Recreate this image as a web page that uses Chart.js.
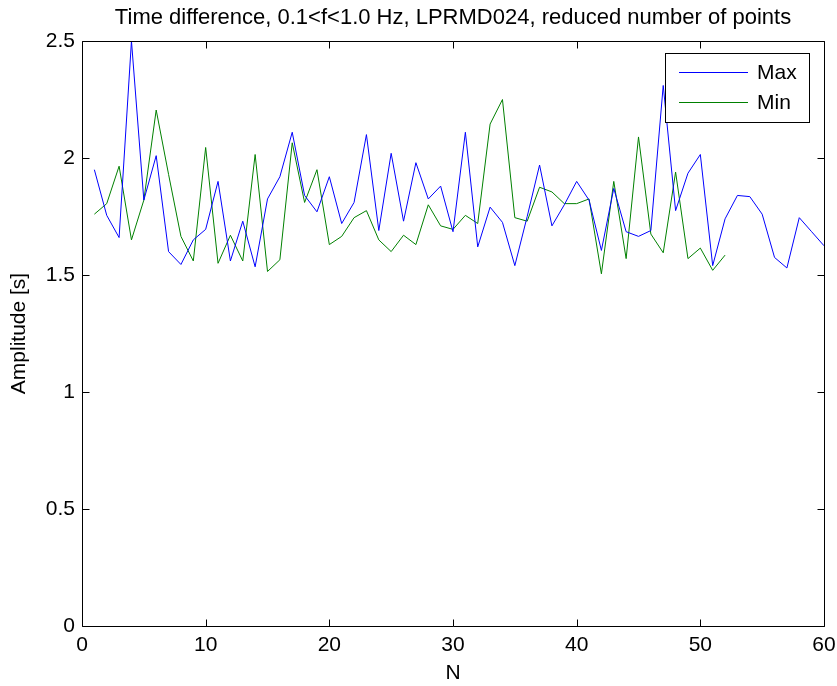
<!DOCTYPE html>
<html lang="en">

<head>
    <meta charset="UTF-8">
    <title>Time difference</title>
    <script src="https://cdn.jsdelivr.net/npm/chart.js"></script>
    <style>
        body { margin: 0; background: #fff; }
        #box { width: 837px; height: 686px; }
    </style>
</head>

<body>
    <div id="box">
        <canvas id="myChart"></canvas>
    </div>
    <script>
        // 數據
        var chartTitle = 'Time difference, 0.1<f<1.0 Hz, LPRMD024, reduced number of points';
        var seriesNames = ['Max', 'Min'];
        var maxVals = [1.95, 1.755, 1.66, 2.50, 1.82, 2.01, 1.60, 1.545, 1.65, 1.695,
            1.90, 1.56, 1.73, 1.535, 1.825, 1.92, 2.11, 1.84, 1.77, 1.92,
            1.72, 1.81, 2.10, 1.69, 2.02, 1.73, 1.98, 1.825, 1.88, 1.685,
            2.11, 1.62, 1.79, 1.725, 1.54, 1.75, 1.97, 1.71, 1.80, 1.90,
            1.82, 1.605, 1.87, 1.685, 1.665, 1.69, 2.31, 1.775, 1.935, 2.015,
            1.54, 1.74, 1.84, 1.835, 1.76, 1.575, 1.53, 1.745, 1.685, 1.625];
        var minVals = [1.76, 1.805, 1.965, 1.65, 1.82, 2.205, 1.93, 1.665, 1.56, 2.045,
            1.55, 1.67, 1.56, 2.015, 1.515, 1.565, 2.065, 1.81, 1.95, 1.63,
            1.665, 1.745, 1.775, 1.65, 1.60, 1.67, 1.63, 1.80, 1.71, 1.695,
            1.755, 1.72, 2.145, 2.25, 1.745, 1.73, 1.875, 1.855, 1.805, 1.805,
            1.825, 1.505, 1.90, 1.57, 2.09, 1.675, 1.595, 1.94, 1.57, 1.615,
            1.52, 1.585];
        var xTicks = [0, 10, 20, 30, 40, 50, 60];
        var yTicks = [0, 0.5, 1, 1.5, 2, 2.5];

        var fontFam = '"Liberation Sans", Arial, Helvetica, sans-serif';

        function toPoints(arr) {
            return arr.map(function (v, i) { return { x: i + 1, y: v }; });
        }

        // MATLAB 風格的外框、內刻度、圖例
        var matlabFrame = {
            id: 'matlabFrame',
            afterDatasetsDraw: function (chart) {
                var ctx = chart.ctx;
                var a = chart.chartArea;
                var xs = chart.scales.x, ys = chart.scales.y;
                var L = Math.round(a.left) + 0.5, R = Math.round(a.right) + 0.5;
                var T = Math.round(a.top) + 0.5, B = Math.round(a.bottom) + 0.5;
                ctx.save();
                ctx.strokeStyle = '#000';
                ctx.lineWidth = 1;
                ctx.beginPath();
                ctx.rect(L, T, R - L, B - T);
                xs.ticks.forEach(function (t) {
                    var px = Math.round(xs.getPixelForValue(t.value)) + 0.5;
                    ctx.moveTo(px, B); ctx.lineTo(px, B - 7);
                    ctx.moveTo(px, T); ctx.lineTo(px, T + 7);
                });
                ys.ticks.forEach(function (t) {
                    var py = Math.round(ys.getPixelForValue(t.value)) + 0.5;
                    ctx.moveTo(L, py); ctx.lineTo(L + 7, py);
                    ctx.moveTo(R, py); ctx.lineTo(R - 7, py);
                });
                ctx.stroke();

                // 圖例
                var bx = 665.5, by = 53.5, bw = 144, bh = 69;
                ctx.fillStyle = '#fff';
                ctx.fillRect(bx, by, bw, bh);
                ctx.strokeRect(bx, by, bw, bh);
                ctx.font = '21px ' + fontFam;
                ctx.textAlign = 'left';
                ctx.textBaseline = 'middle';
                var rows = [72, 102];
                chart.data.datasets.forEach(function (ds, i) {
                    var yy = rows[i] + 0.5;
                    ctx.strokeStyle = ds.borderColor;
                    ctx.beginPath();
                    ctx.moveTo(679, yy); ctx.lineTo(748, yy);
                    ctx.stroke();
                    ctx.fillStyle = '#000';
                    ctx.fillText(ds.label, 757, rows[i] + 1);
                });
                ctx.restore();
            }
        };

        var ctx = document.getElementById('myChart');
        var myChart = new Chart(ctx, {
            type: 'line',
            data: {
                datasets: [{
                    label: seriesNames[0],
                    data: toPoints(maxVals),
                    borderColor: '#0000ff',
                    borderWidth: 1,
                    pointRadius: 0,
                    tension: 0
                }, {
                    label: seriesNames[1],
                    data: toPoints(minVals),
                    borderColor: '#008000',
                    borderWidth: 1,
                    pointRadius: 0,
                    tension: 0
                }]
            },
            options: {
                responsive: true,
                maintainAspectRatio: false,
                animation: false,
                layout: { padding: { left: 0, right: 13, top: 0, bottom: 0 } },
                plugins: {
                    legend: { display: false },
                    tooltip: { enabled: false },
                    title: {
                        display: true,
                        fullSize: false,
                        text: chartTitle,
                        color: '#000',
                        font: { family: fontFam, size: 22, weight: 'normal' },
                        padding: { top: 5, bottom: 9.6 }
                    }
                },
                scales: {
                    x: {
                        type: 'linear',
                        min: 0,
                        max: 60,
                        afterFit: function (s) { s.height = 60; s.paddingLeft = 0; s.paddingRight = 0; },
                        afterBuildTicks: function (s) { s.ticks = xTicks.map(function (v) { return { value: v }; }); },
                        grid: { display: false, drawTicks: false },
                        border: { display: false },
                        ticks: {
                            color: '#000',
                            padding: 7,
                            maxRotation: 0,
                            autoSkip: false,
                            font: { family: fontFam, size: 21 },
                            callback: function (v) { return String(v); }
                        },
                        title: {
                            display: true,
                            text: 'N',
                            color: '#000',
                            font: { family: fontFam, size: 21 },
                            padding: { top: 0, bottom: 0 }
                        }
                    },
                    y: {
                        min: 0,
                        max: 2.5,
                        afterFit: function (s) { s.width = 82; s.paddingTop = 0; s.paddingBottom = 0; },
                        afterBuildTicks: function (s) { s.ticks = yTicks.map(function (v) { return { value: v }; }); },
                        grid: { display: false, drawTicks: false },
                        border: { display: false },
                        ticks: {
                            color: '#000',
                            padding: 7,
                            autoSkip: false,
                            font: { family: fontFam, size: 21 },
                            callback: function (v) { return String(v); }
                        },
                        title: {
                            display: true,
                            text: 'Amplitude [s]',
                            color: '#000',
                            font: { family: fontFam, size: 21 },
                            padding: { top: 7, bottom: 0 }
                        }
                    }
                }
            },
            plugins: [matlabFrame]
        });
    </script>

</body>

</html>
